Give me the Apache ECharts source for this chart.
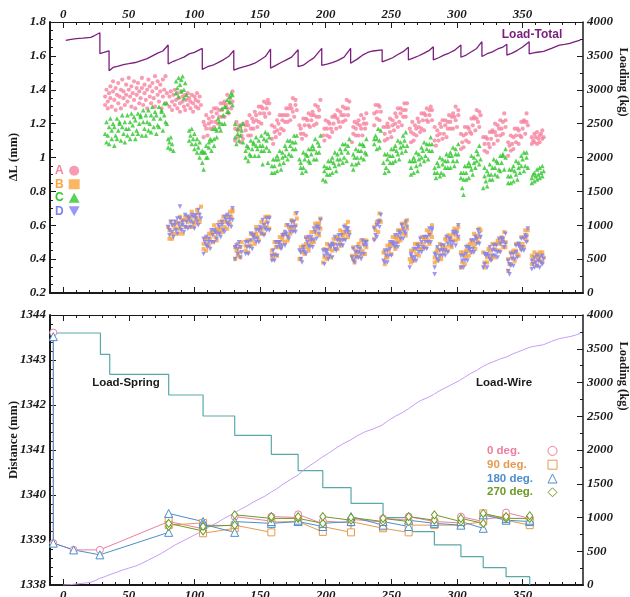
<!DOCTYPE html>
<html>
<head>
<meta charset="utf-8">
<script src="https://cdn.jsdelivr.net/npm/echarts@6/dist/echarts.min.js"></script>
<style>
html,body{margin:0;padding:0;background:#fff;}
#chart{width:630px;height:597px;}
</style>
</head>
<body>
<div id="chart"></div>
<script>
// ---- tick positions ----
const xMajorTicks = [0, 50, 100, 150, 200, 250, 300, 350];
const xMinorTicks = [-10, 0, 10, 20, 30, 40, 50, 60, 70, 80, 90, 100, 110, 120, 130, 140, 150, 160, 170, 180, 190,
  200, 210, 220, 230, 240, 250, 260, 270, 280, 290, 300, 310, 320, 330, 340, 350, 360, 370, 380, 390];

// ---- upper panel: total load (kg) ----
const loadTotal = [[2,3730],[6,3745],[10,3755],[15,3762],[21,3772],[24,3800],[28,3842],[28,3535],[31,3552],[35,3575],[35,3280],
  [38,3330],[42,3350],[46,3372],[50,3385],[55,3402],[60,3432],[64,3460],[68,3500],[72,3540],[76,3572],[80,3660],[80,3380],
  [84,3420],[88,3450],[92,3482],[96,3530],[100,3552],[106,3610],[106,3300],[110,3340],[114,3362],[118,3400],[122,3442],
  [126,3490],[130,3580],[130,3290],[134,3320],[138,3342],[142,3362],[146,3392],[150,3440],[154,3490],[158,3600],[158,3320],
  [162,3360],[166,3402],[170,3440],[174,3482],[179,3590],[179,3340],[183,3362],[187,3420],[191,3470],[197,3612],[197,3360],
  [201,3380],[205,3402],[209,3430],[214,3482],[219,3612],[219,3390],[224,3452],[228,3510],[232,3550],[236,3572],[243,3590],
  [243,3412],[247,3440],[251,3472],[255,3520],[259,3562],[263,3626],[263,3440],[267,3470],[271,3502],[275,3540],[279,3582],
  [282,3636],[282,3440],[286,3472],[290,3510],[294,3542],[298,3580],[303,3660],[303,3480],[307,3512],[311,3560],[315,3610],
  [319,3710],[319,3490],[323,3532],[327,3560],[331,3602],[335,3630],[338,3672],[338,3512],[342,3540],[346,3582],[350,3630],
  [355,3710],[355,3528],[360,3550],[366,3565],[372,3612],[378,3660],[382,3670],[386,3685],[390,3712],[394,3732]];

// ---- upper panel: ΔL (mm) of the four gauges ----
const gaugeA = [
  [32,1.31],[32,1.36],[33,1.40],[34,1.33],[34,1.29],[35,1.38],[36,1.42],[36,1.35],[37,1.30],[38,1.39],[38,1.45],[39,1.34],
  [40,1.28],[40,1.41],[41,1.37],[42,1.44],[42,1.32],[43,1.36],[44,1.40],[44,1.29],[45,1.46],[46,1.35],[46,1.39],[47,1.31],
  [48,1.43],[48,1.37],[49,1.33],[50,1.40],[50,1.47],[51,1.36],[52,1.30],[52,1.42],[53,1.38],[54,1.45],[54,1.34],[55,1.29],
  [56,1.41],[56,1.37],[57,1.44],[58,1.32],[58,1.39],[59,1.35],[60,1.47],[60,1.41],[61,1.31],[62,1.38],[62,1.43],[63,1.34],
  [64,1.29],[64,1.40],[65,1.46],[66,1.36],[66,1.42],[67,1.32],[68,1.44],[68,1.39],[69,1.35],[70,1.48],[70,1.30],[71,1.41],
  [72,1.37],[72,1.45],[73,1.33],[74,1.43],[74,1.39],[75,1.29],[76,1.46],[76,1.36],[77,1.40],[78,1.32],[78,1.48],[79,1.38],
  [81,1.36],[81,1.30],[82,1.39],[83,1.33],[83,1.28],[84,1.37],[85,1.31],[85,1.40],[86,1.34],[87,1.29],[87,1.38],[88,1.35],
  [89,1.32],[89,1.27],[90,1.39],[91,1.33],[91,1.36],[92,1.30],[93,1.37],[93,1.28],[94,1.34],[95,1.31],[95,1.38],[96,1.35],
  [97,1.29],[97,1.33],[98,1.37],[99,1.32],[99,1.27],[100,1.36],[101,1.30],[101,1.34],[102,1.38],[103,1.33],[103,1.29],
  [104,1.36],[105,1.31],
  [107,1.21],[107,1.12],[108,1.19],[109,1.25],[109,1.17],[110,1.13],[111,1.23],[111,1.20],[112,1.17],[113,1.27],[113,1.21],
  [114,1.24],[115,1.18],[115,1.29],[116,1.21],[117,1.26],[117,1.29],[118,1.20],[119,1.28],[119,1.24],[120,1.32],[121,1.24],
  [121,1.28],[122,1.32],[123,1.33],[123,1.24],[124,1.31],[125,1.37],[125,1.29],[126,1.26],[127,1.35],[127,1.32],[128,1.29],
  [129,1.39],[129,1.33],
  [131,1.17],[131,1.10],[132,1.21],[133,1.12],[133,1.16],[134,1.19],[135,1.09],[135,1.17],[136,1.13],[137,1.20],[137,1.11],
  [139,1.16],[139,1.19],[140,1.21],[141,1.13],[141,1.19],[142,1.25],[143,1.17],[143,1.13],[144,1.23],[145,1.21],[145,1.17],
  [146,1.27],[147,1.22],[147,1.25],[148,1.18],[149,1.30],[149,1.21],[150,1.26],[151,1.30],[151,1.20],[152,1.29],[153,1.26],
  [153,1.33],[154,1.24],[155,1.29],[155,1.32],[156,1.34],[157,1.26],[157,1.32],
  [159,1.19],[159,1.11],[160,1.08],[161,1.18],[161,1.15],[162,1.12],[163,1.22],[163,1.16],[164,1.20],[165,1.14],[165,1.25],
  [166,1.17],[167,1.22],[167,1.25],[168,1.16],[169,1.25],[169,1.21],[170,1.29],[171,1.21],[171,1.25],[172,1.29],[173,1.31],
  [173,1.22],[174,1.29],[175,1.35],[175,1.27],[176,1.24],[177,1.34],[177,1.31],[178,1.28],
  [180,1.19],[181,1.14],[181,1.17],[182,1.11],[183,1.23],[183,1.14],[184,1.19],[185,1.23],[185,1.13],[186,1.22],[187,1.19],
  [187,1.26],[188,1.18],[189,1.22],[189,1.25],[190,1.27],[191,1.19],[191,1.25],[192,1.31],[193,1.24],[193,1.20],[194,1.30],
  [195,1.28],[195,1.24],[196,1.34],
  [198,1.13],[199,1.17],[199,1.10],[200,1.22],[201,1.13],[201,1.17],[202,1.21],[203,1.12],[203,1.20],[204,1.17],[205,1.24],
  [205,1.15],[206,1.20],[207,1.24],[207,1.25],[208,1.17],[209,1.23],[209,1.28],[210,1.21],[211,1.18],[211,1.27],[212,1.25],
  [213,1.21],[213,1.30],[214,1.25],[215,1.29],[215,1.22],[216,1.34],[217,1.25],[217,1.29],[218,1.33],
  [220,1.09],[221,1.18],[221,1.14],[222,1.21],[223,1.13],[223,1.17],[224,1.20],[225,1.22],[225,1.13],[226,1.19],[227,1.25],
  [227,1.17],[228,1.13],[229,1.23],[229,1.20],[230,1.17],[231,1.26],[231,1.20],[237,1.26],[237,1.19],[238,1.31],[239,1.23],
  [239,1.27],[240,1.31],[241,1.22],[241,1.30],[242,1.27],
  [244,1.18],[245,1.10],[245,1.14],[246,1.18],[247,1.20],[247,1.11],[248,1.18],[249,1.23],[249,1.15],[250,1.12],[251,1.22],
  [251,1.19],[252,1.16],[253,1.26],[253,1.20],[254,1.24],[255,1.18],[255,1.29],[256,1.21],[257,1.26],[257,1.29],[258,1.19],
  [259,1.28],[259,1.24],[260,1.32],[261,1.24],[261,1.28],[262,1.32],
  [264,1.17],[265,1.09],[265,1.15],[266,1.21],[267,1.14],[267,1.10],[268,1.19],[269,1.17],[269,1.13],[270,1.23],[271,1.18],
  [271,1.21],[272,1.15],[273,1.26],[273,1.17],[274,1.22],[275,1.26],[275,1.16],[276,1.25],[277,1.22],[277,1.29],[278,1.21],
  [279,1.25],[279,1.28],[280,1.30],[281,1.22],[281,1.28],
  [283,1.18],[283,1.10],[284,1.07],[285,1.16],[285,1.13],[286,1.10],[287,1.20],[287,1.14],[288,1.18],[289,1.11],[289,1.22],
  [290,1.14],[291,1.19],[291,1.22],[292,1.12],[293,1.21],[293,1.17],[294,1.25],[295,1.17],[295,1.21],[296,1.24],[297,1.26],
  [297,1.17],[298,1.24],[299,1.30],[299,1.22],[300,1.18],[301,1.28],[301,1.25],
  [303,1.05],[303,1.14],[304,1.09],[305,1.13],[305,1.06],[306,1.18],[307,1.10],[307,1.14],[308,1.18],[309,1.09],[309,1.17],
  [310,1.15],[311,1.23],[311,1.14],[312,1.19],[313,1.23],[313,1.24],[314,1.16],[315,1.23],[315,1.28],[316,1.21],[317,1.18],
  [317,1.27],[318,1.25],
  [320,1.12],[321,1.04],[321,1.08],[322,1.12],[323,1.03],[323,1.11],[324,1.08],[325,1.15],[325,1.06],[326,1.11],[327,1.15],
  [327,1.16],[328,1.08],[329,1.15],[329,1.20],[330,1.13],[331,1.10],[331,1.19],[332,1.17],[333,1.13],[333,1.22],[334,1.17],
  [335,1.21],[335,1.14],[336,1.26],[337,1.18],[337,1.22],
  [339,1.01],[339,1.09],[340,1.07],[341,1.04],[341,1.13],[342,1.08],[343,1.12],[343,1.05],[344,1.17],[345,1.09],[345,1.13],
  [346,1.17],[347,1.08],[347,1.16],[348,1.13],[349,1.21],[349,1.12],[350,1.17],[351,1.21],[351,1.22],[352,1.14],[353,1.21],
  [353,1.26],[354,1.19],
  [357,1.12],[357,1.08],[358,1.10],[359,1.14],[359,1.09],[360,1.12],[361,1.08],[361,1.15],[362,1.11],[363,1.13],[363,1.09],
  [364,1.14],[365,1.11],[365,1.16],[366,1.12]];

const gaugeB = [
  [80,0.59],[81,0.52],[81,0.57],[82,0.62],[83,0.55],[83,0.52],[84,0.60],[85,0.58],[85,0.55],[86,0.62],[87,0.58],[87,0.61],
  [88,0.55],[89,0.65],[89,0.58],[90,0.61],[91,0.63],[91,0.55],[92,0.63],[93,0.59],[93,0.65],[94,0.59],[95,0.62],[95,0.64],
  [96,0.65],[97,0.59],[97,0.64],[98,0.68],[99,0.62],[99,0.59],[100,0.66],[101,0.64],[101,0.61],[102,0.69],[103,0.64],
  [103,0.67],[104,0.62],[105,0.71],
  [107,0.46],[107,0.49],[108,0.52],[109,0.45],[109,0.52],[110,0.49],[111,0.55],[111,0.48],[112,0.52],[113,0.55],[113,0.56],
  [114,0.50],[115,0.56],[115,0.60],[116,0.53],[117,0.51],[117,0.58],[118,0.57],[119,0.55],[119,0.62],[120,0.58],[121,0.62],
  [121,0.56],[122,0.65],[123,0.59],[123,0.62],[124,0.65],[125,0.58],[125,0.65],[126,0.62],[127,0.68],[127,0.61],[128,0.65],
  [129,0.68],[129,0.69],
  [131,0.40],[131,0.47],[132,0.45],[133,0.42],[133,0.49],[134,0.44],[135,0.47],[135,0.41],[136,0.50],
  [139,0.45],[139,0.48],[140,0.51],[141,0.44],[141,0.51],[142,0.48],[143,0.55],[143,0.48],[144,0.51],[145,0.54],[145,0.55],
  [146,0.49],[147,0.55],[147,0.59],[148,0.53],[149,0.51],[149,0.58],[150,0.57],[151,0.55],[151,0.62],[152,0.58],[153,0.61],
  [153,0.55],[154,0.65],[155,0.59],[155,0.62],[156,0.65],[157,0.58],[157,0.65],
  [159,0.42],[159,0.45],[160,0.40],[161,0.50],[161,0.43],[162,0.47],[163,0.50],[163,0.42],[164,0.50],[165,0.47],[165,0.53],
  [166,0.47],[167,0.51],[167,0.53],[168,0.55],[169,0.50],[169,0.55],[170,0.60],[171,0.54],[171,0.51],[172,0.59],[173,0.58],
  [173,0.55],[174,0.63],[175,0.59],[175,0.62],[176,0.57],[177,0.67],[177,0.60],[178,0.64],
  [180,0.40],[181,0.47],[181,0.40],[182,0.44],[183,0.47],[183,0.48],[184,0.43],[185,0.49],[185,0.53],[186,0.47],[187,0.45],
  [187,0.52],[188,0.51],[189,0.49],[189,0.56],[190,0.52],[191,0.56],[191,0.50],[192,0.61],[193,0.55],[193,0.58],[194,0.61],
  [195,0.54],[195,0.61],[196,0.58],[196,0.64],
  [198,0.38],[199,0.46],[199,0.41],[200,0.45],[201,0.40],[201,0.49],[202,0.42],[203,0.46],[203,0.48],[204,0.41],[205,0.49],
  [205,0.45],[206,0.52],[207,0.46],[207,0.49],[208,0.52],[209,0.53],[209,0.46],[210,0.52],[211,0.57],[211,0.50],[212,0.48],
  [213,0.56],[213,0.54],[214,0.52],[215,0.60],[215,0.55],[216,0.58],[217,0.53],[217,0.62],[218,0.56],
  [220,0.42],[221,0.47],[221,0.40],[222,0.38],[223,0.45],[223,0.43],[224,0.41],[225,0.49],[225,0.44],[226,0.47],[227,0.42],
  [227,0.51],[228,0.45],[229,0.49],[229,0.51],[230,0.43],[231,0.51],[231,0.47],[237,0.59],[237,0.52],[238,0.57],[239,0.61],
  [239,0.62],[240,0.56],[241,0.63],[241,0.67],[242,0.62],
  [244,0.44],[245,0.37],[245,0.44],[246,0.41],[247,0.48],[247,0.41],[248,0.45],[249,0.48],[249,0.49],[250,0.43],[251,0.49],
  [251,0.53],[252,0.48],[253,0.46],[253,0.53],[254,0.52],[255,0.50],[255,0.57],[256,0.53],[257,0.57],[257,0.51],[258,0.61],
  [259,0.55],[259,0.58],[260,0.61],[261,0.54],[261,0.61],[262,0.58],[262,0.63],
  [264,0.40],[265,0.38],[265,0.45],[266,0.41],[267,0.45],[267,0.39],[268,0.49],[269,0.43],[269,0.46],[270,0.49],[271,0.42],
  [271,0.49],[272,0.46],[273,0.53],[273,0.46],[274,0.49],[275,0.52],[275,0.53],[276,0.47],[277,0.53],[277,0.57],[278,0.51],
  [279,0.49],[279,0.56],[280,0.55],[281,0.53],[281,0.60],
  [283,0.38],[283,0.41],[284,0.44],[285,0.46],[285,0.39],[286,0.45],[287,0.49],[287,0.42],[288,0.40],[289,0.48],[289,0.46],
  [290,0.44],[291,0.52],[291,0.47],[292,0.51],[293,0.45],[293,0.54],[294,0.48],[295,0.52],[295,0.54],[296,0.47],[297,0.55],
  [297,0.51],[298,0.58],[299,0.51],[299,0.54],[300,0.57],[301,0.59],[301,0.52],
  [303,0.35],[303,0.44],[304,0.38],[305,0.42],[305,0.44],[306,0.37],[307,0.45],[307,0.41],[308,0.48],[309,0.42],[309,0.45],
  [310,0.49],[311,0.51],[311,0.44],[312,0.50],[313,0.55],[313,0.48],[314,0.46],[315,0.54],[315,0.52],[316,0.50],[317,0.58],
  [317,0.53],[318,0.57],
  [320,0.44],[321,0.38],[321,0.35],[322,0.43],[323,0.41],[323,0.38],[324,0.46],[325,0.42],[325,0.45],[326,0.40],[327,0.49],
  [327,0.42],[328,0.46],[329,0.49],[329,0.41],[330,0.49],[331,0.45],[331,0.51],[332,0.45],[333,0.49],[333,0.51],[334,0.53],
  [335,0.47],[335,0.52],[336,0.56],[337,0.50],[337,0.47],
  [339,0.33],[339,0.40],[340,0.37],[341,0.44],[341,0.37],[342,0.41],[343,0.44],[343,0.45],[344,0.39],[345,0.45],[345,0.49],
  [346,0.43],[347,0.42],[347,0.49],[348,0.48],[349,0.46],[349,0.53],[350,0.49],[351,0.53],[351,0.47],[352,0.57],[353,0.51],
  [353,0.54],[354,0.57],
  [357,0.42],[357,0.37],[358,0.40],[359,0.44],[359,0.38],[360,0.41],[361,0.36],[361,0.43],[362,0.40],[363,0.44],[363,0.39],
  [364,0.42],[365,0.38],[365,0.44],[366,0.41]];

const gaugeC = [
  [32,1.14],[33,1.09],[33,1.21],[34,1.13],[35,1.18],[35,1.08],[36,1.23],[37,1.11],[37,1.16],[38,1.20],[39,1.07],[39,1.18],
  [40,1.13],[41,1.23],[41,1.11],[42,1.16],[43,1.20],[43,1.21],[44,1.10],[45,1.18],[45,1.25],[46,1.14],[47,1.09],[47,1.21],
  [48,1.17],[49,1.13],[49,1.25],[50,1.17],[51,1.21],[51,1.11],[52,1.26],[53,1.14],[53,1.19],[54,1.24],[55,1.11],[55,1.22],
  [56,1.16],[57,1.26],[57,1.14],[58,1.20],[59,1.24],[59,1.25],[60,1.13],[61,1.21],[61,1.28],[62,1.17],[63,1.13],[63,1.25],
  [64,1.21],[65,1.16],[65,1.28],[66,1.20],[67,1.25],[67,1.15],[68,1.30],[69,1.18],[69,1.23],[70,1.27],[71,1.14],[71,1.25],
  [72,1.19],[73,1.30],[73,1.18],[74,1.23],[75,1.27],[75,1.28],[76,1.16],[77,1.25],[77,1.32],[78,1.21],[79,1.32],[79,1.20],
  [80,1.11],[80,1.06],[81,1.09],[82,1.05],[82,1.12],[83,1.08],[84,1.04],
  [86,1.38],[86,1.45],[87,1.41],[88,1.47],[88,1.36],[89,1.43],[90,1.39],[90,1.46],[91,1.48],[92,1.40],[92,1.35],[93,1.44],[94,1.37],
  [96,1.16],[96,1.10],[97,1.13],[98,1.08],[98,1.17],[99,1.11],[100,1.14],[100,1.05],[101,1.08],[102,1.03],[102,1.11],
  [103,1.06],[104,1.00],[104,1.09],[105,1.03],[106,0.97],[106,1.04],
  [107,1.03],[107,0.93],[108,1.03],[109,1.00],[109,1.07],[110,1.00],[111,1.06],[111,1.09],[112,1.11],[113,1.04],[113,1.10],
  [114,1.17],[115,1.11],[115,1.07],[116,1.17],[117,1.16],[117,1.12],[118,1.23],[119,1.18],[119,1.21],[120,1.16],[121,1.29],
  [121,1.20],[122,1.25],[123,1.30],[123,1.20],[124,1.30],[125,1.27],[125,1.34],[126,1.27],[127,1.33],[127,1.36],[128,1.38],
  [129,1.31],[129,1.37],
  [131,1.20],[131,1.12],[132,1.08],[133,1.17],[133,1.14],[134,1.10],[135,1.19],[135,1.13],[136,1.16],[137,1.09],[137,1.20],
  [139,1.00],[139,1.04],[140,1.07],[141,0.98],[141,1.06],[142,1.02],[143,1.10],[143,1.01],[144,1.05],[145,1.08],[145,1.09],
  [146,1.01],[147,1.07],[147,1.12],[148,1.05],[149,1.01],[149,1.10],[150,1.07],[151,1.04],[151,1.13],[152,1.07],[152,0.96],
  [153,1.11],[153,1.04],[154,1.15],[155,1.06],[155,1.10],[156,1.14],[156,0.97],[157,1.04],[157,1.12],
  [159,0.95],[159,0.91],[160,0.99],[161,0.91],[161,0.95],[162,0.99],[163,1.01],[163,0.92],[164,0.99],[165,1.04],[165,0.96],
  [166,0.93],[167,1.03],[167,1.00],[168,0.97],[169,1.07],[169,1.01],[170,1.05],[171,0.99],[171,1.10],[172,1.02],[173,1.07],
  [173,1.10],[174,1.01],[175,1.09],[175,1.05],[176,1.13],[177,1.05],[177,1.09],[178,1.13],
  [180,0.99],[181,0.94],[181,0.97],[182,0.91],[183,1.03],[183,0.94],[184,0.99],[185,1.02],[185,0.92],[186,1.01],[187,0.98],
  [187,1.05],[188,0.97],[189,1.02],[189,1.05],[190,1.07],[191,0.99],[191,1.05],[192,1.11],[193,1.03],[193,0.99],[194,1.09],
  [195,1.07],[195,1.03],[196,1.13],
  [198,0.87],[199,0.92],[199,0.95],[200,0.86],[201,0.94],[201,0.90],[202,0.98],[203,0.90],[203,0.94],[204,0.98],[205,1.00],
  [205,0.91],[206,0.97],[207,1.03],[207,0.95],[208,0.92],[209,1.02],[209,0.99],[210,0.96],[211,1.05],[211,0.99],[212,1.03],
  [213,0.97],[213,1.08],[214,1.00],[215,1.05],[215,1.08],[216,0.98],[217,1.07],[217,1.03],[218,1.11],
  [220,0.96],[221,0.93],[221,1.02],[222,1.00],[223,0.96],[223,1.05],[224,1.00],[225,1.04],[225,0.97],[226,1.08],[227,1.00],
  [227,1.04],[228,1.08],[229,0.99],[229,1.07],[230,1.03],[231,1.11],[231,1.02],[237,1.08],[237,1.11],[238,1.13],[239,1.05],
  [239,1.11],[240,1.17],[241,1.10],[241,1.06],[242,1.16],
  [244,0.97],[245,0.91],[245,1.02],[246,0.94],[247,0.99],[247,1.02],[248,0.92],[249,1.01],[249,0.97],[250,1.05],[251,0.97],
  [251,1.01],[252,1.05],[253,1.07],[253,0.98],[254,1.04],[255,1.10],[255,1.02],[256,0.99],[257,1.09],[257,1.06],[258,1.03],
  [259,1.13],[259,1.07],[260,1.10],[261,1.04],[261,1.15],[262,1.07],
  [264,0.98],[265,0.90],[265,0.94],[266,0.98],[267,1.00],[267,0.91],[268,0.98],[269,1.03],[269,0.95],[270,0.92],[271,1.02],
  [271,0.99],[272,0.96],[273,1.06],[273,1.00],[274,1.04],[275,0.98],[275,1.09],[276,1.01],[277,1.05],[277,1.08],[278,0.99],
  [279,1.08],[279,1.04],[280,1.12],[281,1.04],[281,1.08],
  [283,0.94],[283,0.91],[284,0.88],[285,0.97],[285,0.91],[286,0.95],[287,0.89],[287,1.00],[288,0.91],[289,0.96],[289,0.99],
  [290,0.90],[291,0.98],[291,0.94],[292,1.02],[293,0.94],[293,0.98],[294,1.01],[295,1.03],[295,0.94],[296,1.01],[297,1.06],
  [297,0.98],[298,0.95],[299,1.05],[299,1.02],[300,0.98],[301,1.08],[301,1.02],
  [303,0.88],[303,0.91],[304,0.82],[305,0.91],[305,0.87],[305,0.78],[306,0.95],[307,0.87],[307,0.91],[308,0.95],[309,0.97],
  [309,0.88],[310,0.95],[311,1.01],[311,0.93],[312,0.90],[313,1.00],[313,0.97],[314,0.94],[315,1.04],[315,0.98],[316,1.02],
  [317,0.96],[317,1.07],[318,0.99],
  [320,0.82],[321,0.89],[321,0.94],[322,0.86],[323,0.83],[323,0.92],[324,0.90],[325,0.87],[325,0.96],[326,0.90],[327,0.94],
  [327,0.87],[328,0.99],[329,0.90],[329,0.94],[330,0.98],[331,0.89],[331,0.97],[332,0.93],[333,1.01],[333,0.92],[334,0.97],
  [335,1.01],[335,1.02],[336,0.93],[337,1.00],[337,1.05],
  [339,0.89],[339,0.85],[340,0.93],[341,0.85],[341,0.89],[342,0.93],[343,0.95],[343,0.86],[344,0.92],[345,0.98],[345,0.90],
  [346,0.87],[347,0.97],[347,0.94],[348,0.91],[349,1.01],[349,0.95],[350,0.99],[351,0.92],[351,1.03],[352,0.95],[353,1.00],
  [353,1.03],[354,0.94],
  [357,0.88],[357,0.85],[358,0.90],[359,0.86],[359,0.91],[360,0.89],[361,0.93],[361,0.87],[362,0.90],[363,0.88],[363,0.94],
  [364,0.91],[365,0.89],[365,0.95],[366,0.92]];

const gaugeD = [
  [80,0.59],[81,0.57],[81,0.54],[82,0.62],[83,0.56],[83,0.60],[84,0.53],[85,0.62],[85,0.60],[86,0.57],[87,0.64],[87,0.55],
  [88,0.61],[89,0.59],[89,0.64],[89,0.71],[90,0.57],[91,0.60],[91,0.62],[92,0.56],[93,0.59],[93,0.66],[94,0.62],[95,0.58],
  [95,0.65],[96,0.64],[97,0.62],[97,0.59],[98,0.66],[99,0.61],[99,0.65],[100,0.58],[101,0.66],[101,0.64],[102,0.62],
  [103,0.69],[103,0.60],[104,0.66],[105,0.64],
  [107,0.52],[107,0.43],[108,0.50],[109,0.48],[109,0.53],[110,0.47],[111,0.50],[111,0.52],[112,0.46],[113,0.50],[113,0.57],
  [114,0.54],[115,0.50],[115,0.57],[116,0.56],[117,0.55],[117,0.52],[118,0.60],[119,0.55],[119,0.59],[120,0.53],[121,0.62],
  [121,0.60],[122,0.57],[123,0.65],[123,0.56],[124,0.63],[125,0.61],[125,0.66],[126,0.60],[127,0.63],[127,0.65],[128,0.59],
  [129,0.63],[129,0.70],
  [131,0.47],[131,0.40],[132,0.48],[133,0.46],[133,0.43],[134,0.50],[135,0.41],[135,0.47],[136,0.44],
  [139,0.50],[139,0.43],[140,0.47],[141,0.50],[141,0.43],[142,0.47],[143,0.55],[143,0.51],[144,0.46],[145,0.54],[145,0.53],
  [146,0.52],[147,0.50],[147,0.57],[148,0.52],[149,0.57],[149,0.50],[150,0.59],[151,0.58],[151,0.55],[152,0.63],[153,0.54],
  [153,0.60],[154,0.58],[155,0.64],[155,0.57],[156,0.61],[157,0.64],[157,0.57],
  [159,0.39],[159,0.42],[160,0.45],[161,0.39],[161,0.42],[162,0.50],[163,0.47],[163,0.42],[164,0.50],[165,0.50],[165,0.48],
  [166,0.46],[167,0.54],[167,0.48],[168,0.54],[169,0.48],[169,0.56],[170,0.55],[171,0.53],[171,0.60],[172,0.52],[173,0.59],
  [173,0.56],[174,0.62],[175,0.56],[175,0.59],[176,0.62],[177,0.56],[177,0.59],[178,0.67],
  [180,0.45],[181,0.40],[181,0.44],[182,0.38],[183,0.47],[183,0.45],[184,0.44],[185,0.52],[185,0.43],[186,0.50],[187,0.48],
  [187,0.53],[188,0.47],[189,0.51],[189,0.53],[190,0.47],[191,0.51],[191,0.58],[192,0.56],[193,0.52],[193,0.59],[194,0.59],
  [195,0.58],[195,0.55],[196,0.63],
  [198,0.45],[199,0.42],[199,0.37],[200,0.45],[201,0.45],[201,0.43],[202,0.40],[203,0.48],[203,0.42],[204,0.47],[205,0.41],
  [205,0.49],[206,0.48],[207,0.46],[207,0.53],[208,0.45],[209,0.51],[209,0.48],[210,0.54],[211,0.48],[211,0.51],[212,0.54],
  [213,0.48],[213,0.51],[214,0.59],[215,0.56],[215,0.51],[216,0.58],[217,0.58],[217,0.56],[218,0.54],
  [220,0.41],[221,0.39],[221,0.46],[222,0.38],[223,0.44],[223,0.41],[224,0.47],[225,0.41],[225,0.44],[226,0.46],[227,0.40],
  [227,0.43],[228,0.51],[229,0.48],[229,0.43],[230,0.50],[231,0.50],[231,0.48],[237,0.51],[237,0.58],[238,0.54],[239,0.60],
  [239,0.53],[240,0.62],[241,0.62],[241,0.59],[242,0.66],
  [244,0.39],[245,0.45],[245,0.38],[246,0.42],[247,0.45],[247,0.38],[248,0.42],[249,0.50],[249,0.46],[250,0.42],[251,0.50],
  [251,0.49],[252,0.49],[253,0.47],[253,0.54],[254,0.49],[255,0.54],[255,0.47],[256,0.56],[257,0.55],[257,0.52],[258,0.60],
  [259,0.52],[259,0.58],[260,0.56],[261,0.62],[261,0.55],[262,0.59],
  [264,0.35],[265,0.43],[265,0.42],[266,0.41],[267,0.39],[267,0.46],[268,0.41],[269,0.46],[269,0.39],[270,0.48],[271,0.47],
  [271,0.44],[272,0.52],[273,0.44],[273,0.50],[274,0.47],[275,0.53],[275,0.46],[276,0.50],[277,0.53],[277,0.46],[278,0.50],
  [279,0.58],[279,0.54],[280,0.50],[281,0.58],[281,0.57],
  [283,0.35],[283,0.43],[283,0.31],[284,0.42],[285,0.40],[285,0.47],[286,0.39],[287,0.45],[287,0.42],[288,0.48],[289,0.42],
  [289,0.45],[290,0.48],[291,0.42],[291,0.45],[292,0.53],[293,0.49],[293,0.44],[294,0.52],[295,0.52],[295,0.50],[296,0.48],
  [297,0.56],[297,0.50],[298,0.55],[299,0.48],[299,0.56],[300,0.55],[301,0.53],[301,0.60],
  [303,0.42],[303,0.35],[304,0.39],[305,0.42],[305,0.35],[306,0.39],[307,0.47],[307,0.43],[308,0.39],[309,0.47],[309,0.46],
  [310,0.46],[311,0.44],[311,0.51],[312,0.46],[313,0.51],[313,0.44],[314,0.53],[315,0.52],[315,0.49],[316,0.57],[317,0.49],
  [317,0.55],[318,0.53],
  [320,0.35],[321,0.43],[321,0.37],[322,0.42],[323,0.35],[323,0.43],[324,0.42],[325,0.40],[325,0.47],[326,0.39],[327,0.45],
  [327,0.42],[328,0.48],[329,0.42],[329,0.45],[330,0.48],[331,0.41],[331,0.44],[332,0.52],[333,0.49],[333,0.44],[334,0.52],
  [335,0.52],[335,0.50],[336,0.47],[337,0.55],[337,0.49],
  [339,0.33],[339,0.39],[340,0.37],[340,0.31],[341,0.43],[341,0.36],[342,0.40],[343,0.43],[343,0.36],[344,0.40],[345,0.48],
  [345,0.44],[346,0.41],[347,0.49],[347,0.48],[348,0.47],[349,0.45],[349,0.52],[350,0.47],[351,0.52],[351,0.45],[352,0.54],
  [353,0.53],[353,0.50],[354,0.58],
  [357,0.34],[357,0.39],[358,0.37],[359,0.41],[359,0.35],[360,0.38],[361,0.42],[361,0.36],[362,0.39],[363,0.35],[363,0.41],
  [364,0.38],[365,0.42],[365,0.37],[366,0.40]];

// ---- lower panel: loads (kg) ----
const loadSpring = [[-7.5,3733],[28.4,3418],[35.5,3121],[80.4,2815],[106.6,2504],[130.7,2218],[158.6,1936],[179,1694],
  [197.8,1442],[219.3,1210],[243.7,998],[263.2,790],[282.8,593],[303,420],[320,257],[337.4,124],[355.4,0]];
const loadWire = [[0,0],[5,5],[10,15],[15,25],[21,40],[25,70],[28,100],[32,125],[35,150],[38,170],[41,190],[45,220],[50,250],
  [55,280],[60,320],[65,370],[70,420],[75,470],[80,530],[85,590],[90,640],[95,690],[100,740],[106,800],[110,850],[115,900],
  [118,930],[122,980],[126,1020],[130,1060],[135,1120],[140,1170],[145,1230],[150,1280],[154,1320],[158,1370],[163,1430],
  [168,1500],[173,1560],[179,1630],[183,1700],[188,1770],[192,1820],[197,1890],[202,1950],[208,2030],[213,2090],[219,2150],
  [224,2210],[230,2270],[236,2310],[243,2370],[248,2440],[253,2500],[258,2550],[263,2610],[268,2680],[272,2730],[277,2770],
  [282,2820],[287,2880],[292,2930],[297,2980],[302,3030],[306,3080],[310,3130],[315,3180],[319,3230],[323,3270],[328,3310],
  [333,3350],[338,3380],[342,3420],[346,3450],[350,3480],[355,3520],[360,3540],[366,3560],[372,3610],[378,3650],[382,3665],
  [386,3680],[390,3700],[394,3730]];

// ---- lower panel: distance (mm) at four angles ----
const deg0 = [[-7.5,1343.61],[-7.5,1338.93],[8,1338.78],[28,1338.78],[80.4,1339.41],[106.6,1339.25],[106.6,1339.33],
  [130.7,1339.32],[130.7,1339.52],[158.6,1339.42],[158.6,1339.52],[179,1339.5],[179,1339.57],[197.8,1339.36],[197.8,1339.42],
  [219.3,1339.38],[219.3,1339.46],[243.7,1339.4],[243.7,1339.48],[263.2,1339.44],[263.2,1339.52],[282.8,1339.41],[282.8,1339.44],
  [303,1339.38],[303,1339.52],[320,1339.41],[320,1339.46],[337.4,1339.52],[337.4,1339.61],[355.4,1339.48],[355.4,1339.5]];
const deg90 = [[80.4,1339.45],[80.4,1339.33],[106.6,1339.38],[106.6,1339.15],[130.7,1339.26],[130.7,1339.33],[158.6,1339.17],
  [158.6,1339.4],[179,1339.41],[179,1339.45],[197.8,1339.18],[197.8,1339.3],[219.3,1339.17],[219.3,1339.41],[243.7,1339.26],
  [243.7,1339.3],[263.2,1339.17],[263.2,1339.33],[282.8,1339.33],[282.8,1339.37],[303,1339.33],[303,1339.37],[320,1339.41],
  [320,1339.59],[337.4,1339.44],[337.4,1339.48],[355.4,1339.33],[355.4,1339.41]];
const deg180 = [[-7.5,1343.52],[-7.5,1338.93],[8,1338.78],[28,1338.67],[80.4,1339.17],[80.4,1339.59],[106.6,1339.41],
  [106.6,1339.35],[130.7,1339.17],[130.7,1339.41],[158.6,1339.37],[158.6,1339.41],[179,1339.41],[179,1339.44],[197.8,1339.3],
  [197.8,1339.37],[219.3,1339.41],[219.3,1339.52],[243.7,1339.33],[243.7,1339.41],[263.2,1339.3],[263.2,1339.44],[282.8,1339.37],
  [282.8,1339.41],[303,1339.33],[303,1339.41],[320,1339.26],[320,1339.56],[337.4,1339.44],[337.4,1339.48],[355.4,1339.41],[355.4,1339.44]];
const deg270 = [[80.4,1339.3],[80.4,1339.37],[106.6,1339.2],[106.6,1339.3],[130.7,1339.33],[130.7,1339.56],[158.6,1339.48],
  [158.6,1339.52],[179,1339.48],[179,1339.52],[197.8,1339.37],[197.8,1339.52],[219.3,1339.44],[219.3,1339.5],[243.7,1339.41],
  [243.7,1339.48],[263.2,1339.41],[263.2,1339.52],[282.8,1339.44],[282.8,1339.56],[303,1339.41],[303,1339.48],[320,1339.37],
  [320,1339.59],[337.4,1339.48],[337.4,1339.52],[355.4,1339.48],[355.4,1339.54]];

// ---- styling ----
const INK = '#1a1a1a';
const X_MIN = -10, X_MAX = 396;
const C_A = '#f5839f', C_B = '#f9a43f', C_C = '#2fc52c', C_D = '#8080f2';
const C_TOTAL = '#7b1e7e', C_SPRING = '#5aa9a9', C_WIRE = '#c79cf6';
const C_0 = '#ec7f9d', C_90 = '#e49a50', C_180 = '#4c8ecb', C_270 = '#6c9a26';
const tickFont = {fontFamily: 'Liberation Serif', fontStyle: 'italic', fontWeight: 'bold', fontSize: 13, color: INK};
const DOWN_TRI = 'path://M0,0L10,0L5,9Z';
const plainNumber = v => String(Math.round(v * 100) / 100);

function xAxisDef(grid, position, ticks, len, lineOpts, withLabels, labelMargin) {
  return {
    type: 'value', gridIndex: grid, position: position, min: X_MIN, max: X_MAX,
    splitLine: {show: false},
    axisLine: lineOpts ? {show: true, onZero: false, lineStyle: {color: INK, width: lineOpts}} : {show: false},
    axisTick: {show: true, inside: true, length: len, customValues: ticks, lineStyle: {color: INK, width: 1}},
    axisLabel: withLabels
      ? Object.assign({show: true, customValues: xMajorTicks, margin: labelMargin, formatter: plainNumber}, tickFont)
      : {show: false}
  };
}
function yAxisDef(grid, position, min, max, interval, minorSplit, lineW) {
  return {
    type: 'value', gridIndex: grid, position: position, min: min, max: max, interval: interval,
    splitLine: {show: false},
    axisLine: {show: true, onZero: false, lineStyle: {color: INK, width: lineW}},
    axisTick: {show: true, inside: true, length: 6, lineStyle: {color: INK, width: 1}},
    minorTick: {show: true, splitNumber: minorSplit, length: 3, lineStyle: {color: INK, width: 1}},
    axisLabel: Object.assign({margin: 4, formatter: plainNumber}, tickFont)
  };
}

const chart = echarts.init(document.getElementById('chart'), null, {renderer: 'canvas'});
chart.setOption({
  animation: false,
  backgroundColor: '#fff',
  grid: [
    {left: 50, right: 47, top: 22, height: 271, outerBoundsMode: 'none', containLabel: false},
    {left: 50, right: 47, top: 315, height: 270, outerBoundsMode: 'none', containLabel: false}
  ],
  xAxis: [
    xAxisDef(0, 'bottom', xMajorTicks, 6, 2, false, 0),
    xAxisDef(0, 'bottom', xMinorTicks, 3, null, false, 0),
    xAxisDef(0, 'top', xMajorTicks, 6, 1, true, 1),
    xAxisDef(0, 'top', xMinorTicks, 3, null, false, 0),
    xAxisDef(1, 'bottom', xMajorTicks, 6, 2, true, 4),
    xAxisDef(1, 'bottom', xMinorTicks, 3, null, false, 0),
    xAxisDef(1, 'top', xMajorTicks, 6, 1, false, 0),
    xAxisDef(1, 'top', xMinorTicks, 3, null, false, 0)
  ],
  yAxis: [
    yAxisDef(0, 'left', 0.2, 1.8, 0.2, 4, 2),
    yAxisDef(0, 'right', 0, 4000, 500, 2, 1.5),
    yAxisDef(1, 'left', 1338, 1344, 1, 5, 2),
    yAxisDef(1, 'right', 0, 4000, 500, 2, 1.5)
  ],
  legend: [
    {
      data: [
        {name: 'A', icon: 'circle', textStyle: {color: C_A}},
        {name: 'B', icon: 'rect', textStyle: {color: C_B}},
        {name: 'C', icon: 'triangle', textStyle: {color: C_C}},
        {name: 'D', icon: DOWN_TRI, textStyle: {color: C_D}}
      ],
      orient: 'vertical', left: 55, top: 164, padding: 0, align: 'right',
      itemWidth: 11, itemHeight: 10, itemGap: 0, selectedMode: false,
      textStyle: {fontFamily: 'Liberation Sans', fontWeight: 'bold', fontSize: 12, lineHeight: 13.5}
    },
    {
      data: [
        {name: '0 deg.', icon: 'circle', itemStyle: {color: '#fff', borderColor: C_0, borderWidth: 1}, textStyle: {color: C_0}},
        {name: '90 deg.', icon: 'rect', itemStyle: {color: '#fff', borderColor: C_90, borderWidth: 1}, textStyle: {color: C_90}},
        {name: '180 deg.', icon: 'triangle', itemStyle: {color: '#fff', borderColor: C_180, borderWidth: 1}, textStyle: {color: C_180}},
        {name: '270 deg.', icon: 'diamond', itemStyle: {color: '#fff', borderColor: C_270, borderWidth: 1}, textStyle: {color: C_270}}
      ],
      orient: 'vertical', left: 487, top: 444, padding: 0, align: 'right',
      itemWidth: 9, itemHeight: 9, itemGap: 0, selectedMode: false,
      formatter: name => '{t|' + name + '}',
      textStyle: {fontFamily: 'Liberation Sans', fontWeight: 'bold', fontSize: 11.5, lineHeight: 13.8,
        rich: {t: {width: 56, align: 'left', fontFamily: 'Liberation Sans', fontWeight: 'bold', fontSize: 11.5, lineHeight: 13.8}}}
    }
  ],
  graphic: [
    {type: 'text', x: 14, y: 157, rotation: Math.PI / 2,
      style: {text: 'ΔL (mm)', font: 'bold 12.5px "Liberation Serif"', fill: INK, align: 'center', verticalAlign: 'middle'}},
    {type: 'text', x: 623, y: 82, rotation: -Math.PI / 2,
      style: {text: 'Loading (kg)', font: 'bold 12.5px "Liberation Serif"', fill: INK, align: 'center', verticalAlign: 'middle'}},
    {type: 'text', x: 14, y: 440, rotation: Math.PI / 2,
      style: {text: 'Distance (mm)', font: 'bold 12.5px "Liberation Serif"', fill: INK, align: 'center', verticalAlign: 'middle'}},
    {type: 'text', x: 623, y: 376, rotation: -Math.PI / 2,
      style: {text: 'Loading (kg)', font: 'bold 12.5px "Liberation Serif"', fill: INK, align: 'center', verticalAlign: 'middle'}},
    {type: 'text', x: 532, y: 35,
      style: {text: 'Load-Total', font: 'bold 12px "Liberation Sans"', fill: C_TOTAL, align: 'center', verticalAlign: 'middle'}},
    {type: 'text', x: 126, y: 383,
      style: {text: 'Load-Spring', font: 'bold 11.5px "Liberation Sans"', fill: INK, align: 'center', verticalAlign: 'middle'}},
    {type: 'text', x: 504, y: 383,
      style: {text: 'Load-Wire', font: 'bold 11.5px "Liberation Sans"', fill: INK, align: 'center', verticalAlign: 'middle'}}
  ],
  series: [
    {name: 'Load-Total', type: 'line', xAxisIndex: 0, yAxisIndex: 1, data: loadTotal, showSymbol: false,
      lineStyle: {color: C_TOTAL, width: 1.3}, z: 3},
    {name: 'A', type: 'scatter', xAxisIndex: 0, yAxisIndex: 0, data: gaugeA, symbol: 'circle', symbolSize: 4.2,
      itemStyle: {color: C_A}},
    {name: 'C', type: 'scatter', xAxisIndex: 0, yAxisIndex: 0, data: gaugeC, symbol: 'triangle', symbolSize: 4.6,
      itemStyle: {color: C_C}},
    {name: 'B', type: 'scatter', xAxisIndex: 0, yAxisIndex: 0, data: gaugeB, symbol: 'rect', symbolSize: 4,
      itemStyle: {color: C_B}},
    {name: 'D', type: 'scatter', xAxisIndex: 0, yAxisIndex: 0, data: gaugeD, symbol: DOWN_TRI, symbolSize: 4.6,
      itemStyle: {color: C_D}},

    {name: 'Load-Spring', type: 'line', xAxisIndex: 4, yAxisIndex: 3, data: loadSpring, step: 'end', showSymbol: false,
      lineStyle: {color: C_SPRING, width: 1.2}},
    {name: 'Load-Wire', type: 'line', xAxisIndex: 4, yAxisIndex: 3, data: loadWire, showSymbol: false,
      lineStyle: {color: C_WIRE, width: 1}},
    {name: '0 deg.', type: 'line', xAxisIndex: 4, yAxisIndex: 2, data: deg0, symbol: 'circle', symbolSize: 7,
      itemStyle: {color: '#fff', borderColor: C_0, borderWidth: 1}, lineStyle: {color: C_0, width: 1}, z: 4},
    {name: '90 deg.', type: 'line', xAxisIndex: 4, yAxisIndex: 2, data: deg90, symbol: 'rect', symbolSize: 7,
      itemStyle: {color: '#fff', borderColor: C_90, borderWidth: 1}, lineStyle: {color: C_90, width: 1}, z: 4},
    {name: '180 deg.', type: 'line', xAxisIndex: 4, yAxisIndex: 2, data: deg180, symbol: 'triangle', symbolSize: 8,
      itemStyle: {color: '#fff', borderColor: C_180, borderWidth: 1}, lineStyle: {color: C_180, width: 1}, z: 4},
    {name: '270 deg.', type: 'line', xAxisIndex: 4, yAxisIndex: 2, data: deg270, symbol: 'diamond', symbolSize: [6, 8],
      itemStyle: {color: '#fff', borderColor: C_270, borderWidth: 1}, lineStyle: {color: C_270, width: 1}, z: 4}
  ]
});
</script>
</body>
</html>
